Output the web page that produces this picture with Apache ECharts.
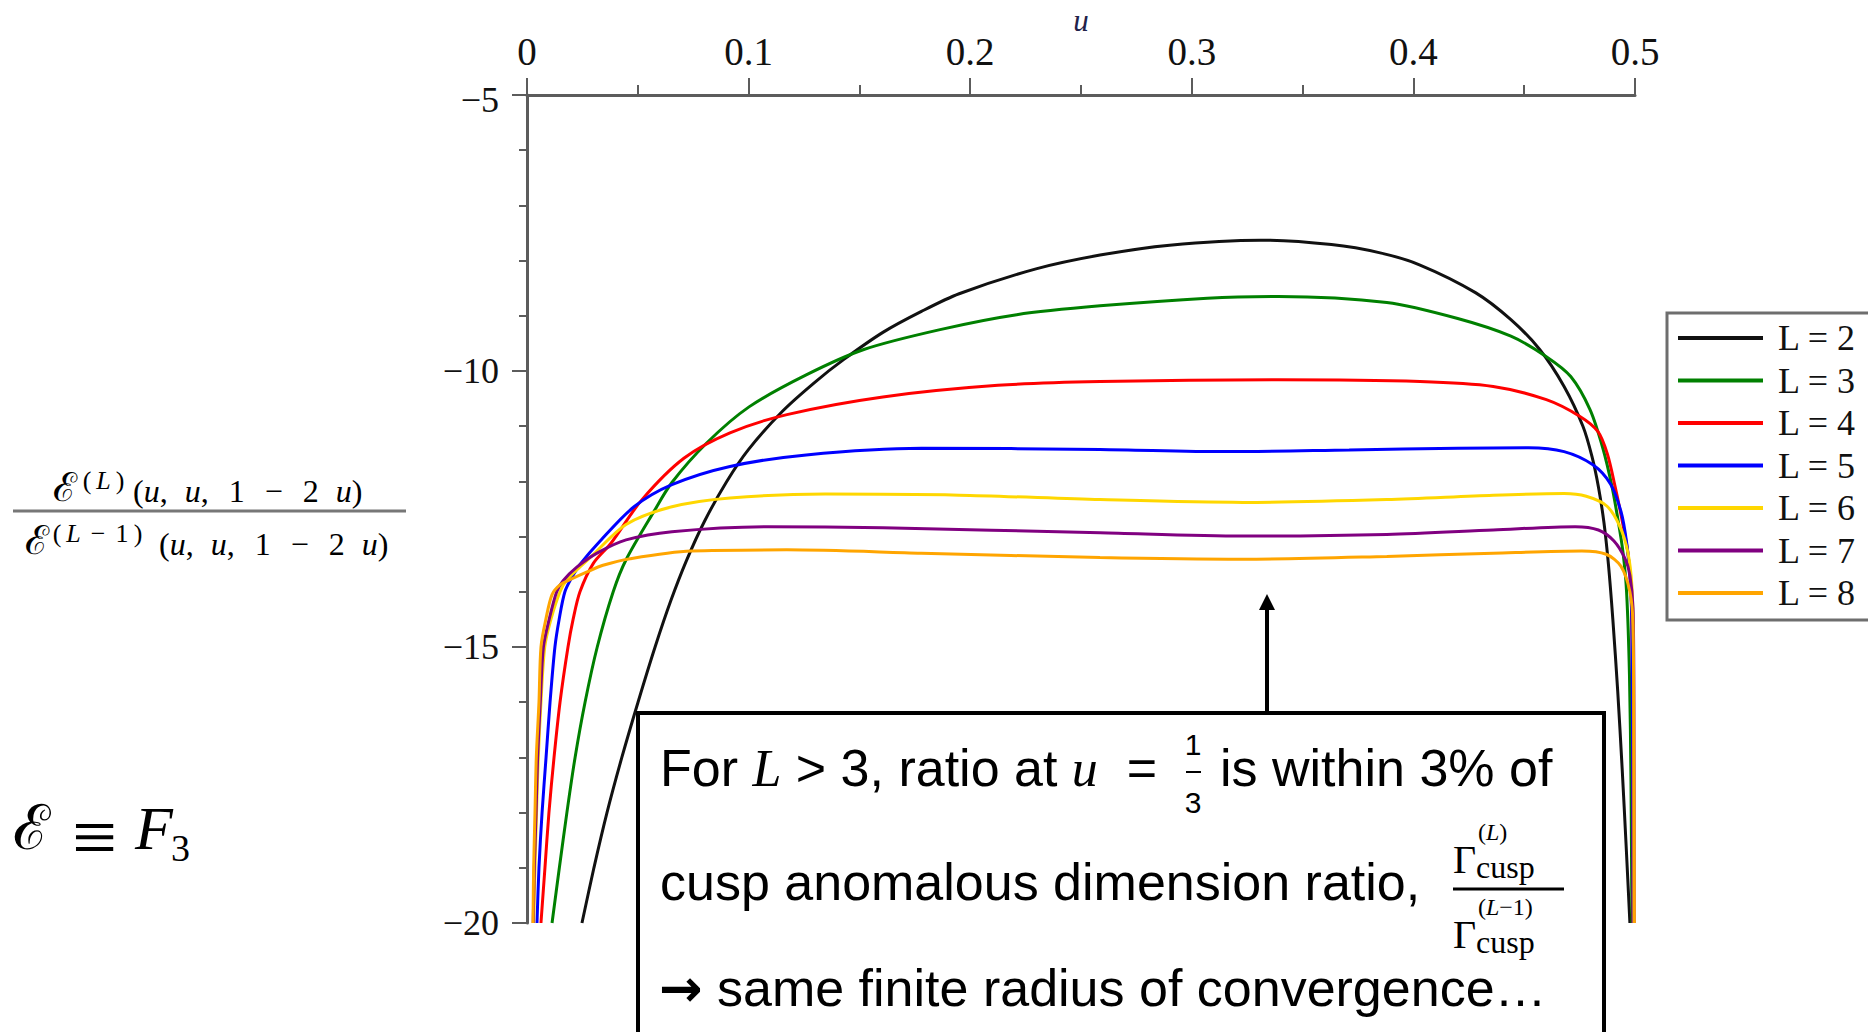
<!DOCTYPE html>
<html>
<head>
<meta charset="utf-8">
<script src="https://cdn.jsdelivr.net/npm/echarts/dist/echarts.min.js"></script>
<style>
html,body{margin:0;padding:0;background:#fff;}
#c{width:1868px;height:1032px;}
</style>
</head>
<body>
<div id="c"></div>
<script>
// ---------- data ----------
const seriesNames = ['L = 2', 'L = 3', 'L = 4', 'L = 5', 'L = 6', 'L = 7', 'L = 8'];
const seriesColors = ['#111111', '#008000', '#ff0000', '#0000ff', '#ffd700', '#800080', '#ffa500'];
const xTickLabels = ['0', '0.1', '0.2', '0.3', '0.4', '0.5'];
const yTickLabels = ['\u221220', '\u221215', '\u221210', '\u22125'];
const xAxisTitle = 'u';

const dataL2 = [[0.0248,-20],[0.0302,-19],[0.0361,-18],[0.0428,-17],[0.0501,-16],[0.0578,-15],[0.065,-14.15],[0.072,-13.43],[0.080,-12.73],[0.090,-12.01],[0.100,-11.42],[0.1155,-10.72],[0.130,-10.2],[0.143,-9.79],[0.1606,-9.30],[0.178,-8.92],[0.195,-8.60],[0.2297,-8.15],[0.2586,-7.90],[0.290,-7.72],[0.331,-7.63],[0.363,-7.71],[0.385,-7.86],[0.403,-8.08],[0.428,-8.58],[0.444,-9.07],[0.457,-9.61],[0.468,-10.28],[0.4765,-11.0],[0.4806,-11.55],[0.4835,-12.1],[0.486,-12.75],[0.488,-13.5],[0.490,-14.5],[0.4922,-15.8],[0.4942,-17.2],[0.496,-18.6],[0.4977,-20]];
const dataL3 = [[0.0113,-20],[0.0146,-19],[0.018,-18],[0.0217,-17],[0.0262,-16],[0.0317,-15],[0.0389,-14],[0.0447,-13.42],[0.0569,-12.57],[0.0654,-12.02],[0.0812,-11.30],[0.1002,-10.65],[0.126,-10.07],[0.152,-9.61],[0.1864,-9.25],[0.221,-8.98],[0.2586,-8.82],[0.307,-8.68],[0.339,-8.65],[0.388,-8.76],[0.42,-9.05],[0.444,-9.37],[0.46,-9.74],[0.471,-10.1],[0.4797,-10.7],[0.4855,-11.4],[0.4896,-12.09],[0.4923,-12.69],[0.4946,-13.29],[0.4962,-14.0],[0.4975,-15.5],[0.4982,-17.5],[0.4986,-20]];
const dataL4 = [[0.0063,-20],[0.0081,-19],[0.0099,-18],[0.0122,-17],[0.0149,-16],[0.0185,-15],[0.0208,-14.5],[0.0239,-14],[0.030,-13.48],[0.0379,-13.12],[0.0519,-12.33],[0.0708,-11.58],[0.0916,-11.12],[0.1173,-10.79],[0.1606,-10.47],[0.2125,-10.26],[0.2586,-10.19],[0.339,-10.16],[0.403,-10.19],[0.436,-10.28],[0.46,-10.52],[0.475,-10.82],[0.4833,-11.1],[0.4875,-11.5],[0.491,-12.09],[0.4941,-12.69],[0.4968,-13.29],[0.4982,-14.0],[0.4988,-15.5],[0.4991,-20]];
const dataL5 = [[0.0045,-20],[0.0054,-19],[0.0068,-18],[0.0086,-17],[0.0104,-16],[0.0126,-15],[0.0145,-14.5],[0.0171,-14],[0.0205,-13.72],[0.024,-13.5],[0.033,-13.08],[0.0483,-12.46],[0.0654,-12.06],[0.0916,-11.73],[0.126,-11.52],[0.178,-11.40],[0.2586,-11.42],[0.315,-11.46],[0.371,-11.43],[0.42,-11.40],[0.452,-11.39],[0.468,-11.46],[0.481,-11.7],[0.489,-12.05],[0.4937,-12.55],[0.4962,-13.1],[0.4977,-13.7],[0.4986,-14.6],[0.4992,-20]];
const dataL6 = [[0.003,-20],[0.0036,-19],[0.0043,-18],[0.0051,-17],[0.0063,-16],[0.0080,-15],[0.0108,-14.5],[0.0149,-14],[0.018,-13.78],[0.0239,-13.55],[0.0293,-13.35],[0.0447,-12.78],[0.0654,-12.46],[0.0916,-12.30],[0.1345,-12.23],[0.195,-12.25],[0.2586,-12.33],[0.323,-12.38],[0.388,-12.33],[0.436,-12.25],[0.468,-12.22],[0.478,-12.27],[0.4874,-12.45],[0.4932,-12.82],[0.4968,-13.29],[0.4986,-13.9],[0.4993,-15],[0.4995,-20]];
const dataL7 = [[0.0028,-20],[0.0033,-19],[0.0041,-18],[0.0048,-17],[0.006,-16],[0.0074,-15],[0.0100,-14.5],[0.0134,-14],[0.0163,-13.8],[0.0226,-13.55],[0.0316,-13.3],[0.0447,-13.06],[0.0654,-12.91],[0.1088,-12.82],[0.1606,-12.84],[0.2586,-12.93],[0.323,-12.99],[0.388,-12.96],[0.436,-12.88],[0.473,-12.82],[0.4835,-12.88],[0.4905,-13.08],[0.4955,-13.4],[0.4977,-13.7],[0.4991,-14.3],[0.4995,-16],[0.4996,-20]];
const dataL8 = [[0.0027,-20],[0.003,-19],[0.0036,-18],[0.0042,-17],[0.0054,-16],[0.0063,-15],[0.0085,-14.5],[0.0113,-14.05],[0.0150,-13.87],[0.0194,-13.78],[0.0271,-13.64],[0.0343,-13.52],[0.0465,-13.40],[0.074,-13.26],[0.1173,-13.24],[0.178,-13.3],[0.2586,-13.38],[0.323,-13.41],[0.388,-13.36],[0.436,-13.3],[0.476,-13.26],[0.487,-13.32],[0.4937,-13.54],[0.4977,-14.0],[0.4991,-14.6],[0.4995,-17],[0.4997,-20]];
const seriesData = [dataL2, dataL3, dataL4, dataL5, dataL6, dataL7, dataL8];

// ---------- styling helpers ----------
const serif = '"Liberation Serif","Times New Roman","DejaVu Serif",serif';
const sans = '"Liberation Sans",Arial,"DejaVu Sans",sans-serif';
const AX = '#5c5c5c';
const MATHC = '#1e1e3c';

function txt(x, baseline, text, size, family, opts) {
  opts = opts || {};
  const st = {
    text: text, fontSize: size, fontFamily: family, fill: opts.fill || '#000',
    fontStyle: opts.italic ? 'italic' : 'normal',
    align: opts.align || 'left', verticalAlign: 'middle'
  };
  if (opts.rich) st.rich = opts.rich;
  return {type: 'text', x: x, y: baseline - 0.34 * size, z: 100, style: st};
}
function block(x, top, text, rich) {
  return {type: 'text', x: x, y: top, z: 100,
    style: {text: text, align: 'left', verticalAlign: 'top', fontSize: 30, fontFamily: serif, fill: '#000', rich: rich}};
}

// y-axis title (fraction) as rich text
const titleRich = {
  e: {fontSize: 40, fontFamily: serif, color: MATHC, lineHeight: 40, verticalAlign: 'bottom'},
  s: {fontSize: 26, fontFamily: serif, color: MATHC, lineHeight: 26, verticalAlign: 'top', align: 'center'},
  si: {fontSize: 26, fontFamily: serif, fontStyle: 'italic', color: MATHC, lineHeight: 26, verticalAlign: 'top', align: 'center'},
  n: {fontSize: 32, fontFamily: serif, color: MATHC, lineHeight: 32, verticalAlign: 'bottom'},
  i: {fontSize: 32, fontFamily: serif, fontStyle: 'italic', color: MATHC, lineHeight: 32, verticalAlign: 'bottom'},
  m: {fontSize: 32, fontFamily: serif, color: MATHC, lineHeight: 32, verticalAlign: 'bottom', width: 30, align: 'center'},
  w6: {width: 6}, w14: {width: 14}, w17: {width: 17}, w20: {width: 20}
};
function wt(name, w, t) { return '{' + name + w + '|' + t + '}'; }
function titleMain() {
  return '{n|(}{i|u}{n|,}{w17| }{i|u}{n|,}{w20| }{n|1}{w14| }{m|\u2212}{w14| }{n|2}{w17| }{i|u}{n|)}';
}
Object.assign(titleRich, {
  e27: Object.assign({}, titleRich.e, {width: 27}),
  e25: Object.assign({}, titleRich.e, {width: 25}),
  s14: Object.assign({}, titleRich.s, {width: 14}),
  si19: Object.assign({}, titleRich.si, {width: 19}),
  s30: Object.assign({}, titleRich.s, {width: 30}),
  s18: Object.assign({}, titleRich.s, {width: 18})
});
const numText = wt('e', 27, '\u2130') + wt('s', 14, '(') + wt('si', 19, 'L') + wt('s', 14, ')') + '{w6| }' + titleMain();
const denText = wt('e', 25, '\u2130') + wt('s', 14, '(') + wt('si', 19, 'L') + wt('s', 30, '\u2212') + wt('s', 18, '1') + wt('s', 14, ')') + '{w14| }' + titleMain();

// E = F3
const eqRich = {
  a: {fontSize: 62, fontFamily: serif, color: '#000', lineHeight: 62, verticalAlign: 'top', width: 59},
  b: {fontSize: 80, fontFamily: serif, color: '#000', lineHeight: 50, verticalAlign: 'top', width: 63},
  f: {fontSize: 62, fontFamily: serif, fontStyle: 'italic', color: '#000', lineHeight: 62, verticalAlign: 'top', width: 36},
  d: {fontSize: 38, fontFamily: serif, color: '#000', lineHeight: 38, verticalAlign: 'bottom'},
  h: {lineHeight: 70, fontSize: 10}
};

// Gamma_cusp blocks (sup on first line, Gamma + subscript on second)
function gammaRich() {
  return {
    sp: {width: 25, lineHeight: 14, fontSize: 10},
    s: {fontSize: 24, fontFamily: serif, color: '#000', lineHeight: 14},
    si: {fontSize: 24, fontFamily: serif, fontStyle: 'italic', color: '#000', lineHeight: 14},
    g: {fontSize: 40, fontFamily: serif, color: '#000', lineHeight: 20, verticalAlign: 'top', width: 23},
    c: {fontSize: 32, fontFamily: serif, color: '#000', lineHeight: 44, verticalAlign: 'bottom'}
  };
}
const richBox = {
  t: {fontSize: 52, fontFamily: sans, color: '#000'},
  m: {fontSize: 52, fontFamily: serif, fontStyle: 'italic', color: '#000'},
  a: {fontSize: 52, fontFamily: '"DejaVu Sans",sans-serif', fontWeight: 'bold', color: '#000'}
};

const graphics = [
  // x-axis title
  txt(1081, 31, xAxisTitle, 31, serif, {italic: true, align: 'center', fill: '#22224a'}),
  // y-axis title fraction
  {type: 'line', z: 100, shape: {x1: 13, y1: 511, x2: 406, y2: 511}, style: {stroke: '#777', lineWidth: 3}},
  block(53, 467, numText, titleRich),
  block(25, 520, denText, titleRich),
  // E = F3
  block(13, 797, '{a|\u2130}{b|\u2261}{f|F}{d|3}{h| }', eqRich),
  // annotation box
  {type: 'rect', z: 90, shape: {x: 638, y: 713, width: 966, height: 400}, style: {fill: '#fff', stroke: '#000', lineWidth: 4}},
  {type: 'line', z: 90, shape: {x1: 1267, y1: 713, x2: 1267, y2: 606}, style: {stroke: '#000', lineWidth: 4}},
  {type: 'polygon', z: 90, shape: {points: [[1267, 594], [1259, 610], [1275, 610]]}, style: {fill: '#000'}},
  txt(660, 786, '{t|For }{m|L}{t| > 3, ratio at }{m|u}{t|  =}', 52, sans, {rich: richBox}),
  txt(1193, 755, '1', 30, sans, {align: 'center'}),
  {type: 'line', z: 100, shape: {x1: 1186, y1: 772, x2: 1201, y2: 772}, style: {stroke: '#000', lineWidth: 2}},
  txt(1193, 813, '3', 30, sans, {align: 'center'}),
  txt(1220, 786, 'is within 3% of', 52, sans),
  txt(660, 900, 'cusp anomalous dimension ratio,', 52, sans),
  {type: 'line', z: 100, shape: {x1: 1453, y1: 889, x2: 1564, y2: 889}, style: {stroke: '#000', lineWidth: 3}},
  block(1453, 825, '{sp| }{s|(}{si|L}{s|)}\n{g|\u0393}{c|cusp}', gammaRich()),
  block(1453, 900, '{sp| }{s|(}{si|L}{s|\u22121)}\n{g|\u0393}{c|cusp}', gammaRich()),
  txt(659, 1006, '{a|\u2192}{t| same finite radius of convergence\u2026}', 52, sans, {rich: richBox})
];

// ---------- chart ----------
const chart = echarts.init(document.getElementById('c'), null, {renderer: 'svg', width: 1868, height: 1032});
const option = {
  animation: false,
  backgroundColor: '#fff',
  grid: {left: 527, right: 233, top: 95, bottom: 109, containLabel: false, outerBoundsMode: 'none'},
  xAxis: {
    type: 'value', min: 0, max: 0.5, interval: 0.1, position: 'top',
    axisLine: {show: true, onZero: false, lineStyle: {color: AX, width: 3}},
    axisTick: {show: true, length: 17, lineStyle: {color: AX, width: 2}},
    minorTick: {show: true, splitNumber: 2, length: 10, lineStyle: {color: AX, width: 2}},
    splitLine: {show: false}, minorSplitLine: {show: false},
    axisLabel: {margin: 24, fontFamily: serif, fontSize: 39, color: '#111', showMinLabel: true, showMaxLabel: true,
      formatter: function (v) { return xTickLabels[Math.round(v * 10)]; }}
  },
  yAxis: {
    type: 'value', min: -20, max: -5, interval: 5,
    axisLine: {show: true, onZero: false, lineStyle: {color: AX, width: 3}},
    axisTick: {show: true, length: 15, lineStyle: {color: AX, width: 2}},
    minorTick: {show: true, splitNumber: 5, length: 8, lineStyle: {color: AX, width: 2}},
    splitLine: {show: false}, minorSplitLine: {show: false},
    axisLabel: {margin: 28, fontFamily: serif, fontSize: 36, color: '#111', showMinLabel: true, showMaxLabel: true,
      formatter: function (v) {
        const k = Math.round((v + 20) / 5);
        return k === 3 ? '{low|' + yTickLabels[k] + '}' : yTickLabels[k];
      },
      rich: {low: {fontFamily: serif, fontSize: 36, color: '#111', padding: [10, 0, 0, 0]}}}
  },
  legend: {
    orient: 'vertical', left: 1667, top: 313, padding: [7, 40, 9, 11], itemGap: 6.5,
    itemWidth: 85, itemHeight: 4, icon: 'rect',
    borderColor: '#6e6e6e', borderWidth: 3, backgroundColor: '#fff',
    textStyle: {fontFamily: serif, fontSize: 36, color: '#111', lineHeight: 36, padding: [0, 0, 0, 10]},
    data: seriesNames
  },
  series: seriesNames.map(function (n, i) {
    return {
      name: n, type: 'line', data: seriesData[i], showSymbol: false, symbol: 'none',
      smooth: 0.3, clip: true,
      lineStyle: {color: seriesColors[i], width: 3}, itemStyle: {color: seriesColors[i]}
    };
  }),
  graphic: graphics
};
chart.setOption(option);
</script>
</body>
</html>
